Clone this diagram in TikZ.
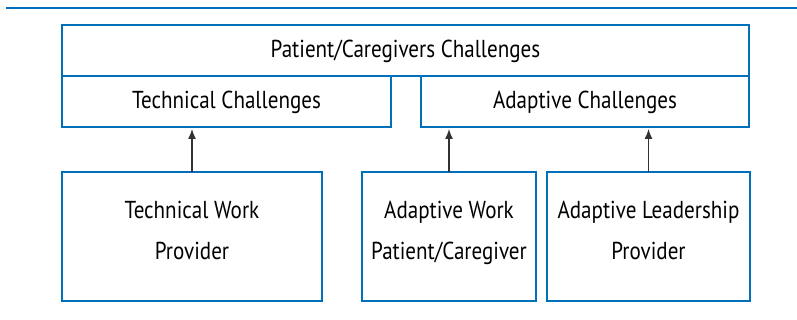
\documentclass[tikz,border=0pt]{standalone}
\usepackage{fontspec}
\setmainfont[FakeStretch=0.86]{PT Sans}
\usetikzlibrary{positioning, arrows.meta}
\definecolor{Box-Blue}{RGB}{0,112,186}
\definecolor{Arrow-Gray}{RGB}{50,50,50}

\begin{document}
\begin{tikzpicture}[x=1pt, y=-1pt]
      \tikzset{ chl/.style ={draw=Box-Blue, line width=2pt, outer sep=0pt, inner sep=0pt, minimum height=51pt, text height=14pt, text depth=0pt, font=\fontsize{24.5}{28}\selectfont} }
      \tikzset{ wrk/.style ={draw=Box-Blue, line width=2pt, outer sep=0pt, inner sep=0pt, minimum height=129pt, text height=45pt, text depth=0pt, align=center, font=\fontsize{24.5}{41}\selectfont} }

      \useasboundingbox (0,0) rectangle (797,320);
      \draw[Box-Blue, line width=2pt] (6,8.5) -- (797,8.5);

      \node[chl, minimum width=687pt                                ] (pc) at (405.5,50.5) {Patient/Caregivers Challenges};
      \node[chl, minimum width=329pt, below right=0pt of pc.south west] (tc)                {Technical Challenges};
      \node[chl, minimum width=328pt, below left=0pt of pc.south east ] (ac)                {Adaptive Challenges};

      \node[wrk, minimum width=260pt                  ] (tw) at (192,236.5) {Technical Work\\Provider};
      \node[wrk, minimum width=174pt, right=40pt of tw] (aw)                {Adaptive Work\\Patient/Caregiver};
      \node[wrk, minimum width=203pt, right=11pt of aw] (al)                {Adaptive Leadership\\Provider};

      \draw[->,>={Latex[length=10pt, width=8pt]}, Arrow-Gray, line width=1.3pt, shorten >=2pt] (tw.north) -- (tw.north |- tc.south);
      \draw[->,>={Latex[length=10pt, width=8pt]}, Arrow-Gray, line width=1.3pt, shorten >=2pt] (aw.north) -- (aw.north |- ac.south);
      \draw[->,>={Latex[length=10pt, width=8pt]}, Arrow-Gray, line width=1.3pt, shorten >=2pt] (al.north) -- (al.north |- ac.south);
    \end{tikzpicture}
\end{document}
